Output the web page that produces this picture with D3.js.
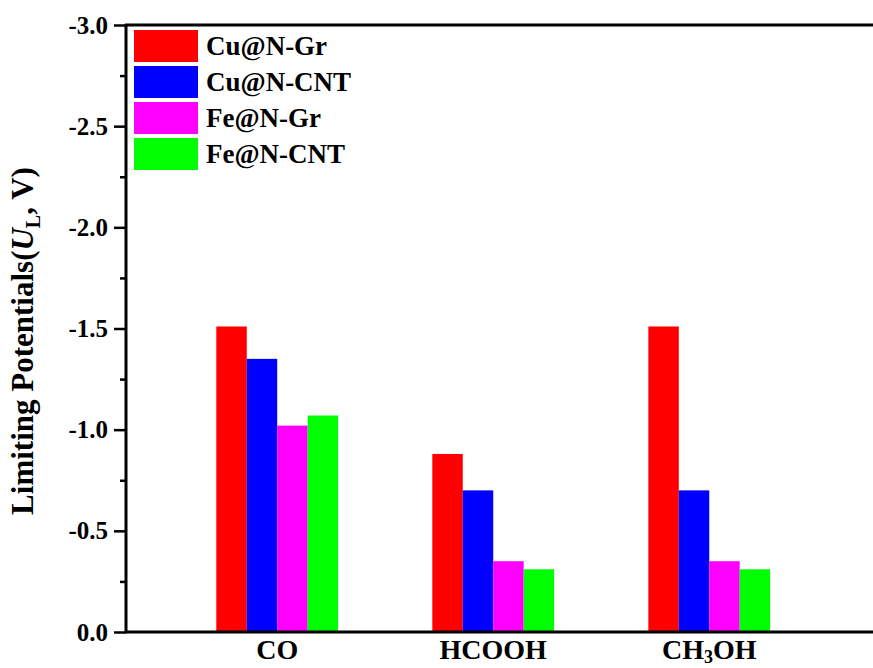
<!DOCTYPE html>
<html>
<head>
<meta charset="utf-8">
<style>
  body { margin: 0; background: #fff; }
  text { font-family: "Liberation Serif", "Times New Roman", serif; font-weight: bold; }
</style>
</head>
<body>
<svg width="873" height="668"></svg>
<script src="https://d3js.org/d3.v7.min.js"></script>
<script>
  var categories = ["CO", "HCOOH", "CH3OH"];
  var seriesNames = ["Cu@N-Gr", "Cu@N-CNT", "Fe@N-Gr", "Fe@N-CNT"];
  var seriesColors = ["#ff0000", "#0000ff", "#ff00ff", "#00ff00"];
  var cuGr  = [-1.51, -0.88, -1.51];
  var cuCnt = [-1.35, -0.70, -0.70];
  var feGr  = [-1.02, -0.35, -0.35];
  var feCnt = [-1.07, -0.31, -0.31];
  var yTicks = [0, -0.5, -1.0, -1.5, -2.0, -2.5, -3.0];
  var yMinor = [-0.25, -0.75, -1.25, -1.75, -2.25, -2.75];

  var series = [cuGr, cuCnt, feGr, feCnt];

  var svg = d3.select("svg"),
      margin = {top: 25, right: 0, bottom: 36, left: 126},
      width = +svg.attr("width") - margin.left - margin.right,
      height = +svg.attr("height") - margin.top - margin.bottom,
      g = svg.append("g").attr("transform", "translate(" + margin.left + "," + margin.top + ")");

  // category index 1..3, axis starts at 0.3
  var x = d3.scaleLinear().domain([0.3, 3.758]).range([0, width]);
  var y = d3.scaleLinear().domain([0, -3]).range([height, 0]);
  var barW = 0.141;

  // bars
  series.forEach(function(vals, s) {
    g.selectAll(".bar" + s)
      .data(vals)
      .enter().append("rect")
        .attr("x", function(d, i) { return x(i + 1 + (s - 2) * barW); })
        .attr("y", function(d) { return y(d); })
        .attr("width", x(barW) - x(0))
        .attr("height", function(d) { return y(0) - y(d); })
        .attr("fill", seriesColors[s]);
  });

  // left axis
  var fmt = function(d) { return d3.format(".1f")(d).replace("\u2212", "-"); };
  var yAxis = g.append("g")
      .call(d3.axisLeft(y).tickValues(yTicks).tickSize(12).tickPadding(6).tickFormat(fmt));
  yAxis.select(".domain").remove();
  yAxis.selectAll(".tick line").attr("stroke", "#000").attr("stroke-width", 2.5);
  yAxis.selectAll(".tick text").attr("font-size", 25).attr("fill", "#000")
      .attr("font-family", "Liberation Serif, serif");

  var yMinorAxis = g.append("g")
      .call(d3.axisLeft(y).tickValues(yMinor).tickSize(6).tickFormat(""));
  yMinorAxis.select(".domain").remove();
  yMinorAxis.selectAll(".tick line").attr("stroke", "#000").attr("stroke-width", 2.5);

  // frame lines (left, top, bottom)
  g.append("line").attr("x1", 0).attr("x2", 0).attr("y1", -1).attr("y2", height + 1)
      .attr("stroke", "#000").attr("stroke-width", 3);
  g.append("line").attr("x1", -1).attr("x2", width).attr("y1", 0).attr("y2", 0)
      .attr("stroke", "#000").attr("stroke-width", 3);
  g.append("line").attr("x1", -1).attr("x2", width).attr("y1", height).attr("y2", height)
      .attr("stroke", "#000").attr("stroke-width", 3);

  // category labels
  var xl = g.selectAll(".xlab")
    .data(categories)
    .enter().append("text")
      .attr("x", function(d, i) { return x(i + 1); })
      .attr("y", height + 27)
      .attr("text-anchor", "middle")
      .attr("font-size", 28);
  xl.each(function(d) {
    var t = d3.select(this);
    var m = d.match(/^(CH)(3)(OH)$/);
    if (m) {
      t.append("tspan").text(m[1]);
      t.append("tspan").text(m[2]).attr("font-size", 18).attr("dy", 4);
      t.append("tspan").text(m[3]).attr("dy", -4);
    } else {
      t.text(d);
    }
  });

  // y title
  var yt = svg.append("text")
      .attr("transform", "translate(33," + 341 + ") rotate(-90)")
      .attr("text-anchor", "middle")
      .attr("font-size", 31);
  yt.append("tspan").text("Limiting Potentials(");
  yt.append("tspan").text("U").attr("font-style", "italic");
  yt.append("tspan").text("L").attr("font-size", 20).attr("dy", 7);
  yt.append("tspan").text(", V)").attr("dy", -7);

  // legend
  var legend = svg.append("g").attr("transform", "translate(134,30)");
  var item = legend.selectAll(".leg")
    .data(seriesNames)
    .enter().append("g")
      .attr("transform", function(d, i) { return "translate(0," + (i * 36) + ")"; });
  item.append("rect")
      .attr("width", 64).attr("height", 32)
      .attr("fill", function(d, i) { return seriesColors[i]; });
  item.append("text")
      .attr("x", 72).attr("y", 25)
      .attr("font-size", 27)
      .text(function(d) { return d; });
</script>
</body>
</html>
